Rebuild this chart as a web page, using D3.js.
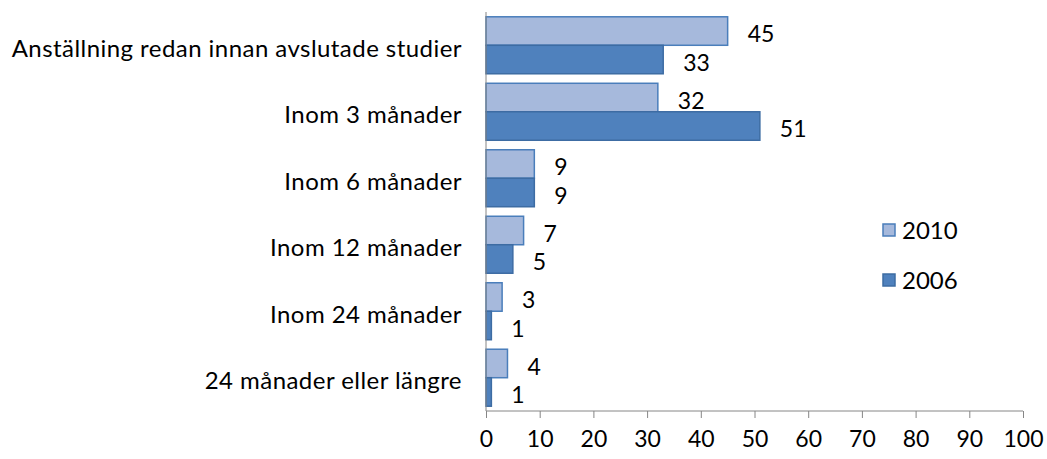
<!DOCTYPE html>
<html>
<head>
<meta charset="utf-8">
<script src="https://cdn.jsdelivr.net/npm/d3@7"></script>
<style>
  body { margin: 0; background: #fff; }
  svg text { font-family: Lato, "Open Sans", sans-serif; fill: #000; }
</style>
</head>
<body>
<div id="chart"></div>
<script>
// Data
const categories = ["Anställning redan innan avslutade studier", "Inom 3 månader", "Inom 6 månader",
	"Inom 12 månader", "Inom 24 månader", "24 månader eller längre"];
const years = ["2010", "2006"];
const values2010 = [45, 32, 9, 7, 3, 4];
const values2006 = [33, 51, 9, 5, 1, 1];
const xTicks = [0, 10, 20, 30, 40, 50, 60, 70, 80, 90, 100];

const fills = { "2010": "#a6b9dc", "2006": "#4f81bd" };
const strokes = { "2010": "#4a7ebb", "2006": "#3d6ca3" };

const width = 1047, height = 459;
const margin = { top: 12, right: 24, bottom: 48, left: 486 };

let svg = d3.select("#chart").append("svg")
	.attr("width", width)
	.attr("height", height);

let x = d3.scaleLinear()
	.domain([0, 100])
	.range([margin.left, 1023]);

let y = d3.scaleBand()
	.domain(categories)
	.range([margin.top, height - margin.bottom])
	.paddingInner(0.143)
	.paddingOuter(0.072);

let ySub = d3.scaleBand()
	.domain(years)
	.range([0, y.bandwidth()]);

const rows = categories.map((c, i) => ({ cat: c, vals: { "2010": values2010[i], "2006": values2006[i] } }));

// Bars
let group = svg.append("g").selectAll("g")
	.data(rows)
	.join("g")
	.attr("transform", d => "translate(0," + y(d.cat) + ")");

group.selectAll("rect")
	.data(d => years.map(k => ({ key: k, v: d.vals[k] })))
	.join("rect")
	.attr("x", x(0))
	.attr("y", d => ySub(d.key))
	.attr("width", d => x(d.v) - x(0))
	.attr("height", ySub.bandwidth())
	.attr("fill", d => fills[d.key])
	.attr("stroke", d => strokes[d.key])
	.attr("stroke-width", 1.5);

group.selectAll("text.val")
	.data(d => years.map(k => ({ key: k, v: d.vals[k] })))
	.join("text")
	.attr("class", "val")
	.attr("x", d => x(d.v) + 20)
	.attr("y", d => ySub(d.key) + ySub.bandwidth() / 2 + 3)
	.attr("dy", "0.35em")
	.style("font-size", "23px")
	.text(d => d.v);

// Category labels
svg.append("g").selectAll("text")
	.data(categories)
	.join("text")
	.attr("x", 462)
	.attr("y", d => y(d) + y.bandwidth() / 2 + 3)
	.attr("dy", "0.35em")
	.attr("text-anchor", "end")
	.style("font-size", "24px")
	.style("letter-spacing", "0.45px")
	.text(d => d);

// Axes
const axisY = height - margin.bottom;
let xAxis = d3.axisBottom(x)
	.tickValues(xTicks)
	.tickSize(7)
	.tickPadding(13);
let xAxisEl = svg.append("g")
	.attr("transform", "translate(0," + axisY + ")")
	.call(xAxis);
xAxisEl.select(".domain").remove();
xAxisEl.append("line")
	.attr("x1", x(0)).attr("x2", x(100))
	.attr("stroke", "#868686");
xAxisEl.selectAll(".tick line").attr("stroke", "#868686");
xAxisEl.selectAll(".tick text")
	.style("font-size", "23px")
	.style("font-family", "Lato, 'Open Sans', sans-serif")
	.attr("fill", "#000");

svg.append("line")
	.attr("x1", x(0)).attr("x2", x(0))
	.attr("y1", margin.top).attr("y2", axisY)
	.attr("stroke", "#868686");

// Legend
let legend = svg.append("g")
	.attr("transform", "translate(883,224)");
let item = legend.selectAll("g")
	.data(years)
	.join("g")
	.attr("transform", (d, i) => "translate(0," + (i * 50) + ")");
item.append("rect")
	.attr("width", 12).attr("height", 12)
	.attr("fill", d => fills[d])
	.attr("stroke", d => strokes[d])
	.attr("stroke-width", 1.5);
item.append("text")
	.attr("x", 19).attr("y", 7)
	.attr("dy", "0.35em")
	.style("font-size", "24px")
	.text(d => d);
</script>
</body>
</html>
